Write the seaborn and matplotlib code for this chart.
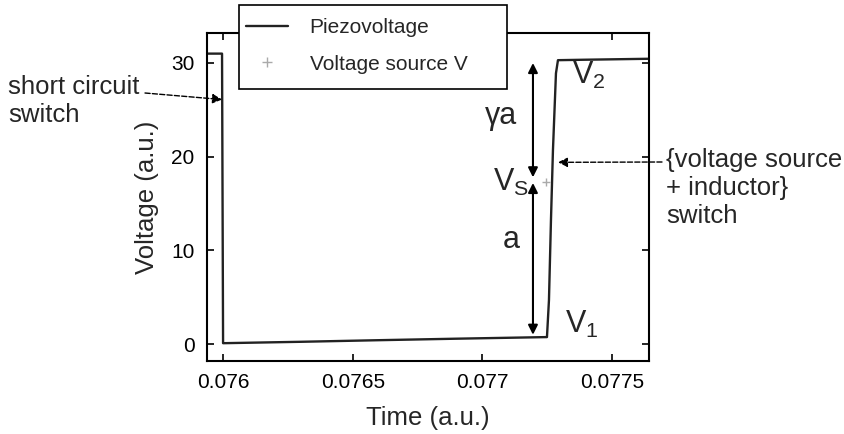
import matplotlib
matplotlib.use("Agg")
import matplotlib.pyplot as plt
from matplotlib.lines import Line2D
from matplotlib.patches import Rectangle
import seaborn as sns
import pandas as pd

# Piezoelectric voltage around one switching cycle
time = [0.075938, 0.075996, 0.076000, 0.076300, 0.076600, 0.076900, 0.077245,
        0.0772494, 0.0772571, 0.0772648, 0.0772725, 0.0772841, 0.0772918,
        0.077400, 0.077643]
piezo = [31.0, 31.0, 0.10, 0.25, 0.42, 0.58, 0.75,
         0.75, 4.7, 13.2, 20.7, 28.9, 30.3,
         30.35, 30.45]

# Voltage source level and where it is applied
source_time = [0.0772455]
source_volt = [17.3]

# Levels marked by the double arrows
v1_level = 1.0
vs_low = 17.2
vs_high = 17.8
v2_level = 30.0
arrow_time = 0.0771954

xticks = [0.076, 0.0765, 0.077, 0.0775]
xtick_labels = ["0.076", "0.0765", "0.077", "0.0775"]
yticks = [0, 10, 20, 30]

sns.set_style("ticks")
plt.rcParams["font.family"] = ["Liberation Sans", "DejaVu Sans"]
plt.rcParams["mathtext.fontset"] = "custom"
plt.rcParams["mathtext.rm"] = "Liberation Sans"

W, H = 844, 434
fig = plt.figure(figsize=(W / 100, H / 100), dpi=100)
ax = fig.add_axes([207 / W, 1 - 361 / H, (649 - 207) / W, (361 - 33) / H])

df = pd.DataFrame({"t": time, "v": piezo})
sns.lineplot(data=df, x="t", y="v", ax=ax, color="#222222", lw=1.7,
             sort=False, estimator=None)
src = pd.DataFrame({"t": source_time, "v": source_volt})
sns.scatterplot(data=src, x="t", y="v", ax=ax, marker="+", color="#aaaaaa",
                s=40, linewidth=1.0, zorder=5)

ax.set_xlim(0.075938, 0.077643)
ax.set_ylim(-1.8, 33.2)
ax.set_xticks(xticks)
ax.set_xticklabels(xtick_labels)
ax.set_yticks(yticks)
ax.tick_params(direction="in", length=5, width=1.2, top=True, right=True,
               labelsize=15, pad=9, colors="black")
for s in ax.spines.values():
    s.set_linewidth(1.5)
    s.set_color("black")

ax.set_xlabel("Time (a.u.)", fontsize=18.5, labelpad=10)
ax.set_ylabel("Voltage (a.u.)", fontsize=18.5, labelpad=9)

# double arrows for the two voltage steps
arrow_kw = dict(arrowstyle="<|-|>", color="black", lw=1.5,
                mutation_scale=14, shrinkA=0, shrinkB=0)
ax.annotate("", xy=(arrow_time, v2_level), xytext=(arrow_time, vs_high),
            arrowprops=arrow_kw)
ax.annotate("", xy=(arrow_time, vs_low), xytext=(arrow_time, v1_level),
            arrowprops=arrow_kw)

big = 22
ax.text(0.0771337, 24.3, "γa", fontsize=big, ha="right", va="center")
ax.text(0.0771450, 11.1, "a", fontsize=big, ha="right", va="center")
ax.text(0.0773458, 28.7, r"$\mathregular{V_2}$", fontsize=big, ha="left", va="center")
ax.text(0.0773188, 2.1, r"$\mathregular{V_1}$", fontsize=big, ha="left", va="center")
ax.text(0.0771800, 17.3, r"$\mathregular{V_S}$", fontsize=big, ha="right", va="center")

# switch annotations with dashed arrows
dash_kw = dict(arrowstyle="-|>", color="black", lw=1.0, linestyle="--",
               mutation_scale=14, shrinkA=0, shrinkB=0)
ax.annotate("", xy=(0.075996, 26.1), xytext=(145, H - 93),
            textcoords="figure pixels", arrowprops=dash_kw,
            annotation_clip=False)
fig.text(8 / W, 1 - 101 / H, "short circuit\nswitch", fontsize=18.5,
         ha="left", va="center", linespacing=1.2)

ax.annotate("", xy=(0.077292, 19.4), xytext=(662, H - 162),
            textcoords="figure pixels", arrowprops=dash_kw,
            annotation_clip=False)
fig.text(666 / W, 1 - 148 / H, "{voltage source\n+ inductor}\nswitch",
         fontsize=18.5, ha="left", va="top", linespacing=1.22)

# legend box drawn as a figure patch, entries placed inside it
fig.patches.append(Rectangle((239 / W, 1 - 89 / H), (507 - 239) / W, 84 / H,
                             transform=fig.transFigure, facecolor="white",
                             edgecolor="black", lw=1.2, zorder=10))
handles = [Line2D([], [], color="#222222", lw=1.7),
           Line2D([], [], color="#aaaaaa", marker="+", ls="none", ms=7, mew=1.0)]
leg = fig.legend(handles, ["Piezovoltage", "Voltage source V"],
                 loc="upper left", bbox_to_anchor=(246 / W, 1 - 18 / H),
                 fontsize=15, frameon=False, handlelength=2.0,
                 handletextpad=1.05, labelspacing=0.85, borderpad=0,
                 borderaxespad=0)
leg.set_zorder(11)

fig.savefig("out.png", dpi=100)
